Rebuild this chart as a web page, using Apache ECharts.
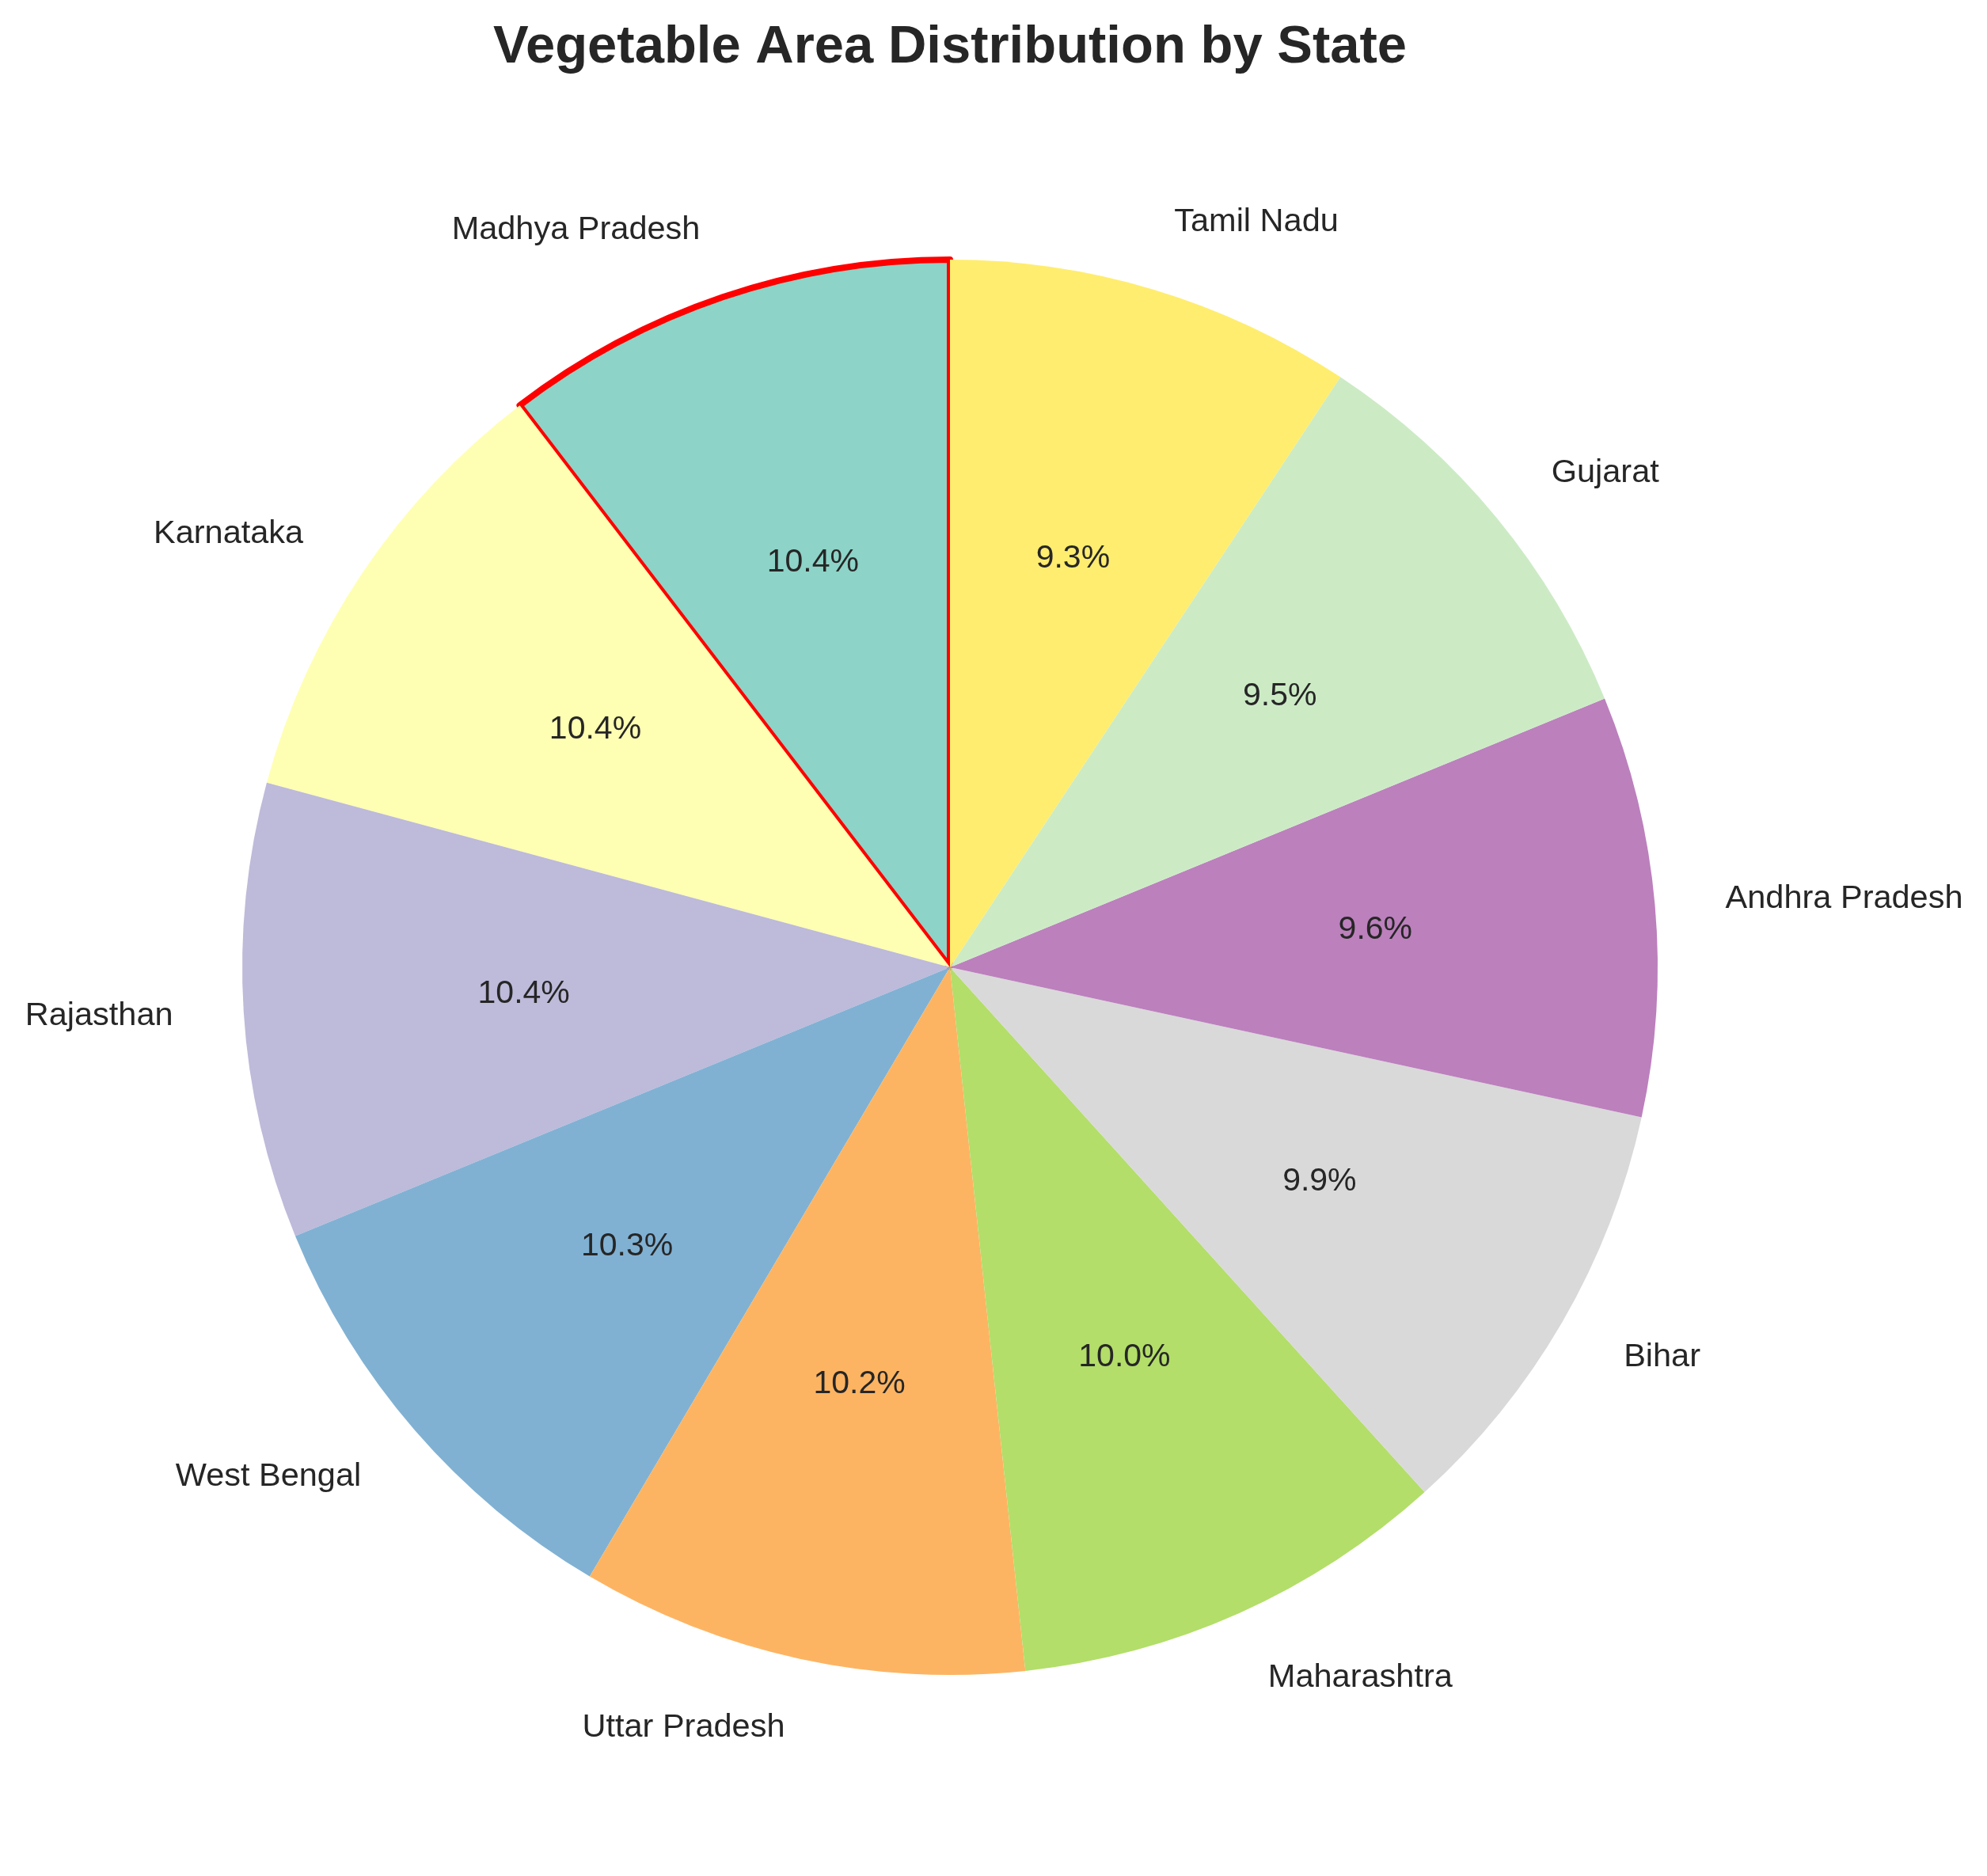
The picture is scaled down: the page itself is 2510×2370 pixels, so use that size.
<!DOCTYPE html>
<html>
<head>
<meta charset="utf-8">
<script src="https://cdn.jsdelivr.net/npm/echarts@6/dist/echarts.min.js"></script>
<style>
  html, body { margin: 0; padding: 0; background: #ffffff; }
  #chart { width: 2510px; height: 2370px; }
</style>
</head>
<body>
<div id="chart"></div>
<script>
// Data (shares of vegetable area, %)
const states = ['Madhya Pradesh', 'Karnataka', 'Rajasthan', 'West Bengal', 'Uttar Pradesh',
                'Maharashtra', 'Bihar', 'Andhra Pradesh', 'Gujarat', 'Tamil Nadu'];
const shares = [10.4, 10.4, 10.4, 10.3, 10.2, 10.0, 9.9, 9.6, 9.5, 9.3];
const colors = ['#8dd3c7', '#ffffb3', '#bebada', '#80b1d3', '#fdb462',
                '#b3de69', '#d9d9d9', '#bc80bd', '#ccebc5', '#ffed6f'];
const highlighted = 'Madhya Pradesh';

const CX = 1200, CY = 1222, R = 894;
const FONT = '"Liberation Sans", Arial, sans-serif';
const TXT = '#262626';

const mainData = states.map((s, i) => {
  const item = { name: s, value: shares[i], itemStyle: { color: colors[i] } };
  if (s === highlighted) {
    item.itemStyle.borderColor = '#ff0000';
    item.itemStyle.borderWidth = 8;
  }
  return item;
});
const pctData = states.map((s, i) => ({ name: s, value: shares[i] }));

const chart = echarts.init(document.getElementById('chart'), null, { renderer: 'canvas' });
chart.setOption({
  backgroundColor: '#ffffff',
  animation: false,
  title: {
    text: 'Vegetable Area Distribution by State',
    left: CX - 5,
    textAlign: 'center',
    top: 22,
    textStyle: { fontFamily: FONT, fontSize: 67, fontWeight: 'bold', color: TXT, lineHeight: 67 }
  },
  series: [
    {
      type: 'pie',
      center: [CX, CY],
      radius: [0, R],
      startAngle: 90,
      clockwise: false,
      avoidLabelOverlap: false,
      silent: true,
      data: mainData,
      itemStyle: { borderWidth: 0 },
      label: {
        show: true,
        position: 'outside',
        formatter: '{b}',
        fontFamily: FONT,
        fontSize: 41.5,
        color: TXT,
        distanceToLabelLine: 0
      },
      labelLine: { show: false, length: R * 0.1, length2: 0 }
    },
    {
      type: 'pie',
      center: [CX, CY],
      radius: [R * 0.2, R],
      startAngle: 90,
      clockwise: false,
      avoidLabelOverlap: false,
      silent: true,
      z: 3,
      data: pctData,
      itemStyle: { color: 'rgba(0,0,0,0)', borderWidth: 0 },
      label: {
        show: true,
        position: 'inside',
        formatter: p => p.value.toFixed(1) + '%',
        fontFamily: FONT,
        fontSize: 41,
        color: TXT
      },
      labelLine: { show: false }
    }
  ]
});
</script>
</body>
</html>
